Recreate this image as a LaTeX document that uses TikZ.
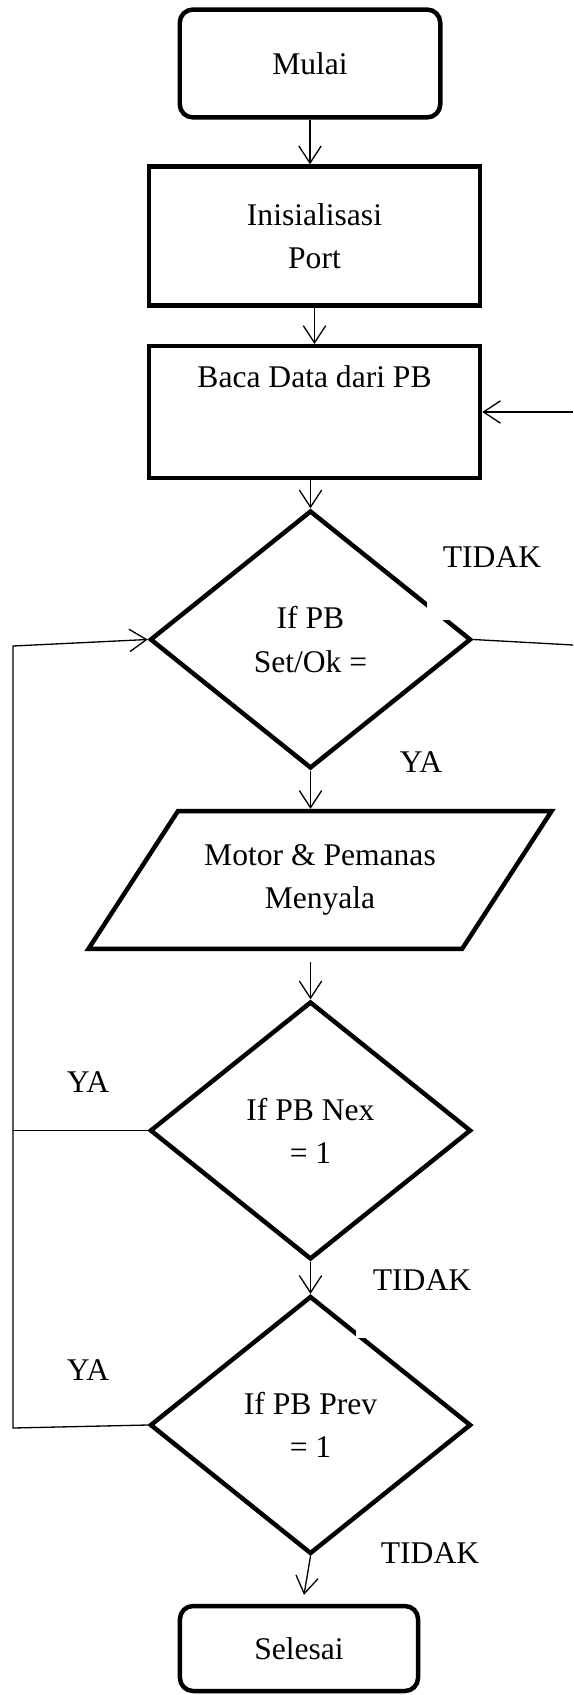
\documentclass[tikz,border=0pt]{standalone}
\usepackage{fontspec}
\setmainfont{Liberation Serif}
\usetikzlibrary{shapes.geometric,arrows.meta}

\begin{document}
\begin{tikzpicture}[x=0.38pt,y=-0.38pt,
    every node/.style={font=\fontsize{12}{16.4}\selectfont, align=center, inner sep=0pt},
    term/.style={draw, line width=1.7pt, rounded corners=5pt},
    proc/.style={draw, line width=1.7pt, minimum width=125.8pt},
    dec/.style={draw, diamond, line width=1.7pt, minimum width=122pt, minimum height=98pt},
    io/.style={draw, trapezium, trapezium left angle=57, trapezium right angle=123,
        trapezium stretches body=true, line width=1.7pt, inner ysep=12.7pt, minimum width=176pt},
    mask/.style={fill=white},
    link/.style={line width=0.5pt},
    arr/.style={link, -{Straight Barb[length=6.5pt,width=8.5pt]}}]
    \useasboundingbox (0,0) rectangle (573,1695);

    \node[term, minimum width=99pt, minimum height=41pt] (F1) at (310,63.5) {Mulai};
    \node[proc, minimum height=52.8pt] (F2) at (314.5,236) {Inisialisasi\\Port};
    \node[proc, minimum height=50pt, text depth=27pt] (F3) at (314.5,412) {Baca Data dari PB};
    \node[dec] (F4) at (310.5,639.5) {If PB\\Set/Ok =};
    \node[mask, minimum width=49.4pt, minimum height=47.9pt] (L1) at (492,557) {TIDAK};
    \node[io] (F5) at (320,880) {Motor \& Pemanas\\Menyala};
    \node[dec] (F7) at (310.5,1425) {If PB Prev\\= 1};
    \node[mask, minimum width=50.2pt, minimum height=44.1pt] (L4) at (422,1280) {TIDAK};
    \node[dec] (F6) at (310.5,1130.5) {If PB Nex\\= 1};
    \node[term, minimum width=90.5pt, minimum height=32.3pt] (F8) at (299,1648.5) {Selesai};

    \node (L2) at (421,762) {YA};
    \node (L3) at (88,1082) {YA};
    \node (L5) at (88,1370) {YA};
    \node (L6) at (430,1553) {TIDAK};

    \coordinate (C1) at (573,645);
    \coordinate (C2) at (573,412);
    \coordinate (C3) at (13,1428);
    \coordinate (C4) at (13,646);

    \draw[arr] (F1.south)--(F1.south |- F2.north);
    \draw[arr] (F2.south)--(F3.north);
    \draw[arr] (F3.south -| F4.north)--(F4.north);
    \draw[arr] (F4.south)--(F4.south |- F5.north);
    \draw[arr] ([yshift=-4.2pt]F5.south -| F6.north)--(F6.north);
    \draw[arr] (F6.south)--(F7.north);
    \draw[arr] (F7.south)--([xshift=1.9pt,yshift=3.4pt]F8.north);

    \draw[link] (F4.east)--(C1);
    \draw[arr] (C2)--(F3.east);

    \draw[arr] (F7.west)--(C3)--(C4)--(F4.west);
    \draw[link] (F6.west)--(F6.west -| C3);

\end{tikzpicture}
\end{document}
